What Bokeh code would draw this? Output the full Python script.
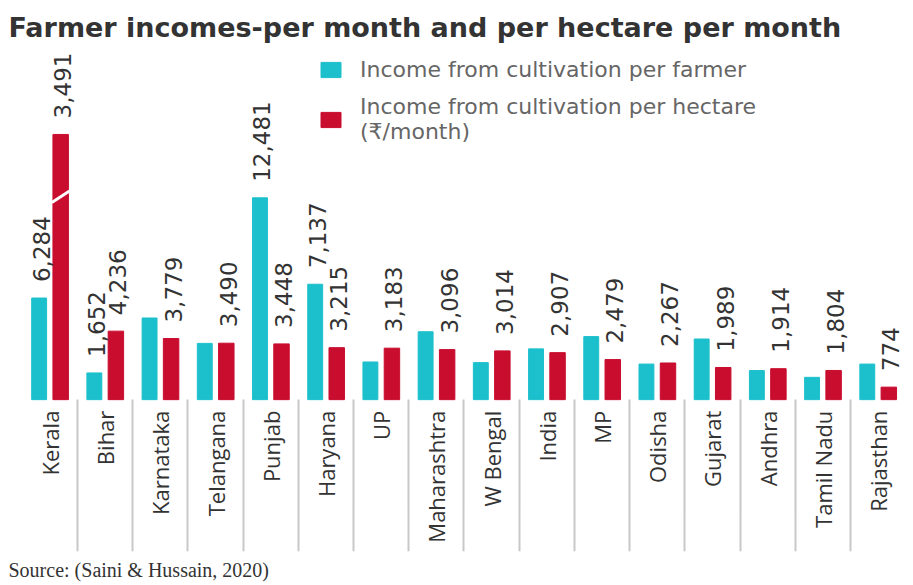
import math
from bokeh.plotting import figure
from bokeh.models import (ColumnDataSource, Range1d, FixedTicker, Legend, LegendItem,
                          Title, LinearAxis)
from bokeh.transform import dodge
from bokeh.core.properties import value
from bokeh.embed import file_html
from bokeh.resources import INLINE

states = ["Kerala", "Bihar", "Karnataka", "Telangana", "Punjab", "Haryana", "UP",
          "Maharashtra", "W Bengal", "India", "MP", "Odisha", "Gujarat", "Andhra",
          "Tamil Nadu", "Rajasthan"]
# Income from cultivation per farmer (Rs/month); unlabelled bars
per_farmer = [6284, 1652, 5050, 3480, 12481, 7137, 2330, 4200, 2290, 3140, 3900, 2200,
              3750, 1800, 1380, 2200]
farmer_labels = ["6,284", "1,652", "", "", "12,481", "7,137", "", "", "", "", "", "", "",
                 "", "", ""]
# Income from cultivation per hectare (Rs/month); Kerala bar is drawn broken (estimated drawn height)
per_hectare = [16400, 4236, 3779, 3490, 3448, 3215, 3183, 3096, 3014, 2907, 2479, 2267,
               1989, 1914, 1804, 774]
hectare_labels = ["3,491", "4,236", "3,779", "3,490", "3,448", "3,215", "3,183", "3,096",
                  "3,014", "2,907", "2,479", "2,267", "1,989", "1,914", "1,804", "774"]

CYAN = "#1cc0cc"
RED = "#c90d2f"

xs = list(range(len(states)))
src = ColumnDataSource(dict(x=xs, farmer=per_farmer, hectare=per_hectare,
                            flab=farmer_labels, hlab=hectare_labels))

p = figure(width=913, height=585, output_backend="svg", toolbar_location=None,
           x_range=Range1d(-0.895, 15.642), y_range=Range1d(-9390, 21900),
           x_axis_location=None, y_axis_location=None,
           min_border_left=0, min_border_right=0,
           min_border_top=45, min_border_bottom=30, outline_line_color=None)
p.grid.visible = False

p.title.text = "Farmer incomes-per month and per hectare per month"
p.title.text_font = "DejaVu Sans"
p.title.text_font_style = "bold"
p.title.text_font_size = "27px"
p.title.text_color = "#333333"
p.title.offset = 8
p.title.standoff = 6

r1 = p.vbar(x=dodge("x", -0.195, range=p.x_range), top="farmer", width=0.27,
            source=src, color=CYAN)
r2 = p.vbar(x=dodge("x", 0.195, range=p.x_range), top="hectare", width=0.28,
            source=src, color=RED)

# break mark on the broken Kerala bar
kx = xs[0] + 0.195
ky = per_hectare[0] * 0.765
p.segment(x0=[kx - 0.16], y0=[ky - 350], x1=[kx + 0.16], y1=[ky + 350],
          line_color="white", line_width=3)

lab_kw = dict(angle=math.pi / 2, text_align="left", text_baseline="middle",
              y_offset=-16, x_offset=2, text_font=value("DejaVu Sans"),
              text_font_size="23px", text_color="#333333", source=src)
p.text(x=dodge("x", -0.195, range=p.x_range), y="farmer", text="flab", **lab_kw)
p.text(x=dodge("x", 0.195, range=p.x_range), y="hectare", text="hlab", **lab_kw)

# category axis drawn at the zero line
ax = LinearAxis(fixed_location=0)
ax.ticker = FixedTicker(ticks=xs)
ax.major_label_overrides = {i: s for i, s in zip(xs, states)}
ax.major_label_orientation = math.pi / 2
ax.major_label_text_font = "Open Sans"
ax.major_label_text_font_size = "22px"
ax.major_label_text_color = "#333333"
ax.major_label_standoff = 11
ax.major_tick_out = 0
ax.major_tick_in = 0
ax.major_tick_line_color = None
ax.minor_tick_line_color = None
ax.axis_line_color = None
p.add_layout(ax, "below")

# separator axis: long ticks between the categories
sep = LinearAxis(fixed_location=0)
sep.ticker = FixedTicker(ticks=[i + 0.5 for i in xs[:-1]])
sep.major_label_text_font_size = "0px"
sep.major_label_text_alpha = 0
sep.major_tick_in = 0
sep.major_tick_out = 152
sep.major_tick_line_color = "#c8c8c8"
sep.major_tick_line_width = 2
sep.minor_tick_line_color = None
sep.axis_line_color = None
p.add_layout(sep, "below")

legend = Legend(items=[
    LegendItem(label="Income from cultivation per farmer", renderers=[r1]),
    LegendItem(label="Income from cultivation per hectare\n(₹/month)", renderers=[r2]),
], location=(318, 407), orientation="vertical")
legend.border_line_color = None
legend.background_fill_alpha = 0
legend.label_text_font = "DejaVu Sans"
legend.label_text_font_size = "22px"
legend.label_text_color = "#666666"
legend.glyph_width = 25
legend.glyph_height = 19
legend.label_standoff = 17
legend.spacing = 12
legend.padding = 0
legend.margin = 0
p.add_layout(legend)

p.add_layout(Title(text="Source: (Saini & Hussain, 2020)", align="left",
                   text_font="Liberation Serif", text_font_size="20px",
                   text_font_style="normal", text_color="#333333", offset=8), "below")

open("out.html", "w").write(file_html(p, INLINE))
